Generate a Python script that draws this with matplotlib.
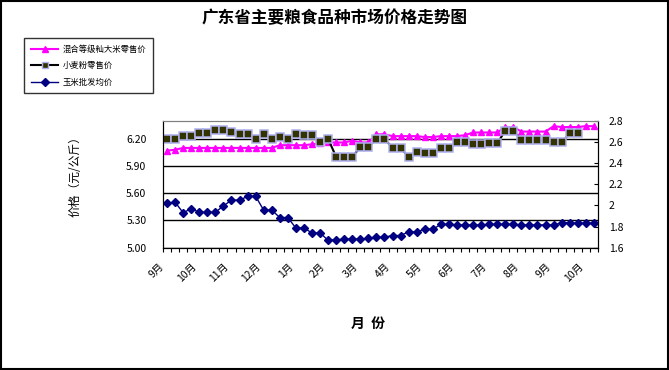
import numpy as np
import matplotlib
matplotlib.use('Agg')
import matplotlib.pyplot as plt
import matplotlib.transforms as mtransforms
from matplotlib.lines import Line2D
from matplotlib.patches import Rectangle

plt.rcParams['font.family'] = ['Noto Sans CJK SC', 'DejaVu Sans']

# 数据
month_labels = ['9月', '10月', '11月', '12月', '1月', '2月', '3月',
                '4月', '5月', '6月', '7月', '8月', '9月', '10月']
rice = [6.07, 6.08, 6.10, 6.10, 6.10, 6.10, 6.10, 6.10, 6.10, 6.10,
        6.10, 6.10, 6.10, 6.10, 6.13, 6.13, 6.13, 6.13, 6.14, 6.15,
        6.16, 6.16, 6.16, 6.18, 6.16, 6.16, 6.25, 6.25, 6.23, 6.23,
        6.23, 6.23, 6.22, 6.22, 6.23, 6.23, 6.23, 6.24, 6.27, 6.27,
        6.27, 6.27, 6.33, 6.33, 6.28, 6.28, 6.28, 6.28, 6.34, 6.33,
        6.33, 6.33, 6.34, 6.34]
wheat = [6.20, 6.20, 6.23, 6.23, 6.26, 6.26, 6.30, 6.30, 6.28, 6.25,
         6.25, 6.20, 6.25, 6.20, 6.22, 6.20, 6.25, 6.24, 6.24, 6.16,
         6.20, 6.00, 6.00, 6.00, 6.11, 6.11, 6.20, 6.20, 6.10, 6.10,
         6.00, 6.05, 6.04, 6.04, 6.10, 6.10, 6.16, 6.16, 6.14, 6.14,
         6.15, 6.15, 6.29, 6.29, 6.19, 6.19, 6.19, 6.19, 6.16, 6.16,
         6.26, 6.26, np.nan, np.nan]
corn = [2.02, 2.03, 1.93, 1.97, 1.935, 1.935, 1.935, 1.995, 2.05, 2.05,
        2.085, 2.085, 1.955, 1.955, 1.885, 1.885, 1.785, 1.785, 1.74, 1.74,
        1.67, 1.675, 1.68, 1.68, 1.68, 1.69, 1.70, 1.70, 1.715, 1.715,
        1.75, 1.75, 1.775, 1.775, 1.82, 1.82, 1.815, 1.815, 1.815, 1.815,
        1.82, 1.82, 1.82, 1.82, 1.815, 1.815, 1.815, 1.815, 1.815, 1.835,
        1.835, 1.83, 1.83, 1.83]

x = np.arange(len(rice))

fig = plt.figure(figsize=(6.69, 3.70), dpi=100)
ax = fig.add_axes([0.2437, 0.3305, 0.65, 0.3433])
ax2 = ax.twinx()

# 左轴：大米、小麦粉
ax.plot(x, rice, color='#ff00ff', lw=1.5, marker='^', ms=5,
        mec='#ff00ff', mfc='#ff00ff', zorder=3)
ax.plot(x, wheat, color='black', lw=1.5, marker='s', ms=5.5,
        mfc='#333300', mec='#aeb0ee', mew=1.1, zorder=4)
# 右轴：玉米
ax2.plot(x, corn, color='#000080', lw=1, marker='D', ms=4.5,
         mfc='#000080', mec='#000080')

ax.set_xlim(-0.5, len(rice) - 0.5)
ax.set_ylim(5.0, 6.4)
ax.set_yticks([5.0, 5.3, 5.6, 5.9, 6.2])
ax.set_yticklabels(['5.00', '5.30', '5.60', '5.90', '6.20'], fontsize=7.5)
ax.tick_params(axis='y', length=0, pad=12)
ax.yaxis.grid(True, color='black', lw=1)
ax.set_axisbelow(True)

ax2.set_ylim(1.6, 2.8)
ax2.set_yticks(np.arange(1.6, 2.81, 0.2))
ax2.set_yticklabels(['%g' % round(v, 1) for v in np.arange(1.6, 2.81, 0.2)], fontsize=7.5)
ax2.tick_params(axis='y', direction='in', length=3, pad=8)

# x轴刻度
ax.set_xticks(np.arange(-0.5, len(rice), 1))
ax.set_xticklabels([])
ax.tick_params(axis='x', direction='out', length=3, width=0.8)

for a in (ax, ax2):
    a.spines['top'].set_color('#808080')
    a.spines['left'].set_color('black')
    a.spines['right'].set_color('black')
    a.spines['bottom'].set_color('black')

trans = mtransforms.blended_transform_factory(ax.transData, ax.transAxes)
trans = mtransforms.offset_copy(trans, fig=fig, x=-8, y=-13, units='dots')
for i, lab in zip(range(0, len(rice), 4), month_labels):
    ax.text(i, 0, lab, transform=trans, rotation=45, rotation_mode='anchor',
            ha='right', va='top', fontsize=7.5)

fig.text(0.5, 0.952, '广东省主要粮食品种市场价格走势图', ha='center', va='center',
         fontsize=12, fontweight='bold')
fig.text(0.112, 0.53, '价格（元/公斤）', rotation=90, ha='center', va='center',
         fontsize=8.5)
fig.text(0.55, 0.125, '月  份', ha='center', va='center', fontsize=10,
         fontweight='bold')

handles = [
    Line2D([], [], color='#ff00ff', lw=1.5, marker='^', ms=5, mec='#ff00ff'),
    Line2D([], [], color='black', lw=1.5, marker='s', ms=5, mfc='#333300',
           mec='#aeb0ee'),
    Line2D([], [], color='#000080', lw=1, marker='D', ms=4.5),
]
leg = fig.legend(handles, ['混合等级籼大米零售价', '小麦粉零售价', '玉米批发均价'],
                 loc='upper left', bbox_to_anchor=(0.036, 0.897), fontsize=6,
                 frameon=True, fancybox=False, edgecolor='black',
                 handlelength=3.3, labelspacing=0.9, borderpad=0.8,
                 handletextpad=0.5, borderaxespad=0)
leg.get_frame().set_linewidth(1)

fig.patches.append(Rectangle((0.001, 0.002), 0.997, 0.995, transform=fig.transFigure,
                             fill=False, edgecolor='black', lw=1.5))

fig.savefig('out.png', dpi=100)
